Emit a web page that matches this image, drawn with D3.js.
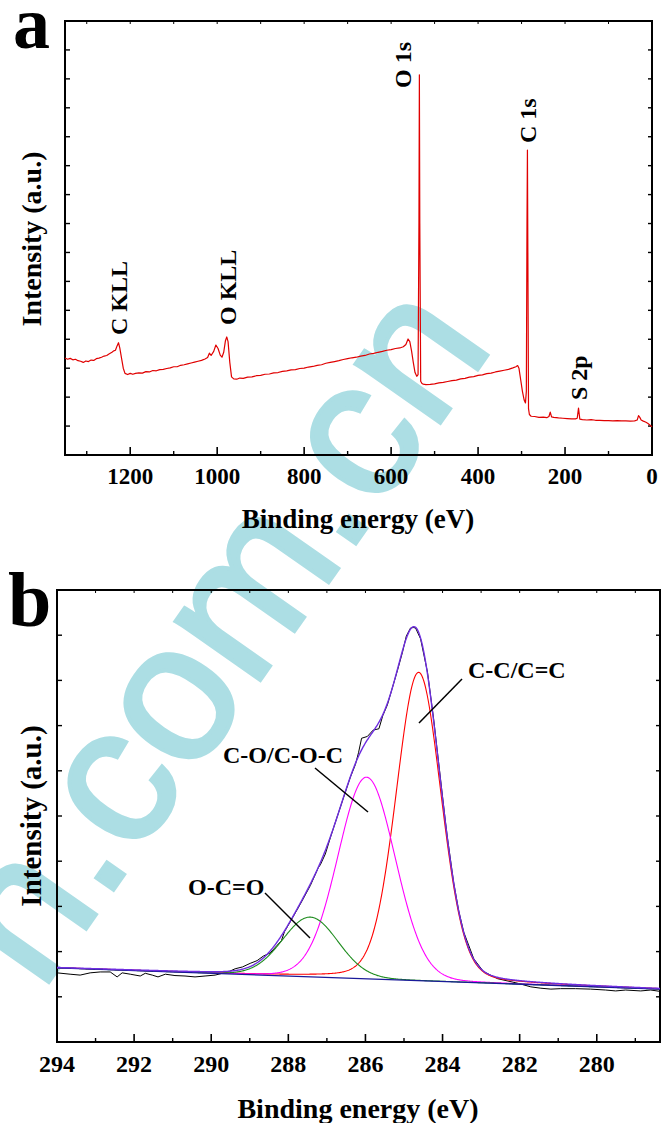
<!DOCTYPE html>
<html>
<head>
<meta charset="utf-8">
<script src="https://cdn.jsdelivr.net/npm/d3@7"></script>
<style>
  html, body { margin: 0; padding: 0; background: #fff; }
  svg { display: block; }
  text { font-family: "Liberation Serif", "Times New Roman", serif; font-weight: bold; }
</style>
</head>
<body>
<svg id="fig" width="661" height="1123"></svg>
<script>
// ---------- (a) survey spectrum ----------
const surveyEnergy = [
  1350,1344,1338,1332,1326,1320,1314,1308,1302,1296,1290,1284,1278,1272,1266,1260,1254,1248,1242,1238,
  1234,1230,1227,1224,1220,1216,1212,1206,1200,1194,1188,1180,1172,1164,1156,1148,1140,1132,1124,1116,
  1108,1100,1092,1084,1076,1068,1060,1052,1044,1036,1028,1022,1018,1014,1008,1003,998,993,989,985,
  981,978,975,971,967,962,955,948,940,930,920,910,900,890,880,870,860,850,840,830,
  820,810,800,790,780,770,760,750,740,730,720,710,700,690,680,670,660,650,640,630,
  620,610,600,590,580,572,566,561,557,553,549,545,541,538,536,535,534,532,529,526,
  520,510,500,490,480,470,460,450,440,430,420,410,400,390,380,370,360,350,340,330,
  320,313,309,306,302,298,294,291,289,287.5,286.5,285.5,284,282,278,270,260,250,242,237,
  234,231,226,215,205,195,185,176,172,169,166,160,150,140,130,120,110,100,90,80,
  70,60,50,40,34,31,28,25,20,15,10,5,0
];
const surveyIntensity = [
  3.35,3.31,3.34,3.29,3.31,3.26,3.24,3.20,3.25,3.23,3.28,3.27,3.33,3.35,3.38,3.42,3.44,3.50,3.55,3.60,
  3.62,3.78,3.88,3.70,3.35,3.00,2.82,2.78,2.82,2.79,2.82,2.84,2.83,2.88,2.87,2.92,2.91,2.95,2.96,2.99,
  3.01,3.05,3.05,3.10,3.12,3.15,3.18,3.21,3.24,3.27,3.32,3.37,3.52,3.44,3.58,3.80,3.68,3.45,3.38,3.55,
  3.95,4.08,3.92,3.20,2.70,2.63,2.62,2.66,2.65,2.69,2.70,2.74,2.75,2.79,2.80,2.84,2.85,2.89,2.91,2.94,
  2.95,2.99,3.00,3.04,3.06,3.10,3.12,3.17,3.20,3.23,3.26,3.30,3.33,3.36,3.38,3.42,3.44,3.49,3.51,3.55,
  3.58,3.62,3.64,3.68,3.70,3.74,3.82,4.01,3.92,3.60,3.20,2.85,2.72,2.78,8.00,13.14,8.00,2.55,2.47,2.45,
  2.43,2.44,2.46,2.49,2.51,2.54,2.57,2.59,2.63,2.65,2.69,2.71,2.75,2.77,2.81,2.83,2.87,2.90,2.93,2.96,
  3.01,3.05,3.09,3.00,2.60,2.20,1.90,1.80,2.20,8.00,10.54,7.00,1.60,1.40,1.34,1.33,1.30,1.31,1.29,1.33,
  1.48,1.32,1.30,1.28,1.27,1.26,1.25,1.25,1.27,1.62,1.24,1.22,1.21,1.22,1.20,1.20,1.19,1.19,1.18,1.19,
  1.18,1.18,1.17,1.18,1.21,1.36,1.30,1.21,1.17,1.14,1.10,1.04,0.97
];
const surveyPeakNames  = ["C KLL", "O KLL", "O 1s", "C 1s", "S 2p"];
const surveyPeakEnergy = [1228, 978, 535, 286.5, 169];
const surveyTickLabels = [1200, 1000, 800, 600, 400, 200, 0];

// ---------- (b) C 1s high-resolution spectrum ----------
const c1sEnergy = [
  294.00,293.66,293.40,293.14,292.88,292.62,292.44,292.31,292.10,291.84,291.71,291.53,291.38,291.19,290.94,
  290.68,290.42,290.16,289.90,289.71,289.56,289.38,289.19,288.99,288.81,288.65,288.47,288.29,288.18,288.10,
  287.95,287.69,287.43,287.22,287.17,287.04,286.91,286.78,286.57,286.39,286.26,286.18,286.10,285.95,285.80,
  285.65,285.55,285.43,285.30,285.17,285.04,284.94,284.83,284.76,284.70,284.57,284.39,284.23,284.05,283.92,
  283.87,283.71,283.58,283.45,283.19,282.94,282.57,282.05,281.71,281.45,281.19,280.94,280.55,280.16,279.77,
  279.51,279.25,278.86,278.60,278.36
];
const c1sRaw = [
  1.53,1.50,1.48,1.53,1.55,1.55,1.44,1.53,1.50,1.46,1.52,1.48,1.44,1.50,1.47,
  1.46,1.44,1.46,1.48,1.52,1.55,1.62,1.66,1.74,1.80,1.90,1.97,2.14,2.24,2.44,
  2.66,3.05,3.46,3.86,3.92,4.16,4.52,4.86,5.40,5.86,6.14,6.40,6.72,6.76,6.90,
  6.93,7.22,7.46,7.84,8.22,8.62,8.98,9.16,9.17,9.16,8.92,8.18,7.14,5.80,4.84,
  4.50,3.52,2.90,2.43,1.84,1.56,1.40,1.30,1.22,1.19,1.17,1.18,1.18,1.17,1.15,
  1.13,1.15,1.13,1.15,1.12
];
// fitted components (pseudo-Voigt peaks)
const fitNames   = ["C-C/C=C", "C-O/C-O-C", "O-C=O"];
const fitCenter  = [284.62, 285.97, 287.43];
const fitHeight  = [6.82, 4.46, 1.32];
const fitFwhm    = [1.38, 1.75, 1.70];
const fitLorentz = [0.15, 0.05, 0.05];
const backgroundEnergy = [294, 278.36];
const backgroundLevel  = [1.64, 1.17];
const c1sTickLabels = [294, 292, 290, 288, 286, 284, 282, 280];

// ---------- drawing ----------
const svg = d3.select("#fig");
const fitColors = ["#ff0000", "#ff00ff", "#1e8c1e"];

// watermark lettering behind the plots
svg.append("text")
  .attr("transform", "translate(41,993) rotate(-55)")
  .style("font-family", "'Liberation Sans', Arial, sans-serif")
  .style("font-weight", "normal")
  .style("font-size", "195px")
  .attr("fill", "#acdee4")
  .attr("stroke", "#acdee4")
  .attr("stroke-width", 4)
  .text("n.com.cn");

function frame(g, x, y, o) {
  const [x0, x1] = x.range(), [y0, y1] = y.range();
  o.bottomMajor.forEach(v => g.append("line").attr("x1", x(v)).attr("x2", x(v))
      .attr("y1", y0).attr("y2", y0 - 8).attr("stroke", "#000").attr("stroke-width", 1.6));
  o.bottomMinor.forEach(v => g.append("line").attr("x1", x(v)).attr("x2", x(v))
      .attr("y1", y0).attr("y2", y0 - 4).attr("stroke", "#000").attr("stroke-width", 1.4));
  o.topTicks.forEach(v => g.append("line").attr("x1", x(v)).attr("x2", x(v))
      .attr("y1", y1).attr("y2", y1 + 3).attr("stroke", "#000").attr("stroke-width", 1));
  o.yTicks.forEach(v => {
    g.append("line").attr("x1", x0).attr("x2", x0 + 5).attr("y1", y(v)).attr("y2", y(v))
      .attr("stroke", "#000").attr("stroke-width", 1.4);
    g.append("line").attr("x1", x1).attr("x2", x1 - 4).attr("y1", y(v)).attr("y2", y(v))
      .attr("stroke", "#000").attr("stroke-width", 1.4);
  });
  g.append("rect").attr("x", x0).attr("y", y1).attr("width", x1 - x0).attr("height", y0 - y1)
    .attr("fill", "none").attr("stroke", "#000").attr("stroke-width", 2);
  o.bottomMajor.forEach(v => g.append("text").attr("x", x(v)).attr("y", y0 + o.labelDy)
      .attr("text-anchor", "middle").style("font-size", o.labelSize + "px").text(v));
}

// ----- panel (a) -----
const xa = d3.scaleLinear().domain([1350, 0]).range([65, 652]);
const ya = d3.scaleLinear().domain([0, 15]).range([455, 21]);
const ga = svg.append("g");
frame(ga, xa, ya, {
  bottomMajor: surveyTickLabels,
  bottomMinor: [1300, 1100, 900, 700, 500, 300, 100],
  topTicks: d3.range(1300, 0, -100),
  yTicks: d3.range(1, 15),
  labelDy: 29, labelSize: 23
});
ga.append("path")
  .datum(surveyEnergy.map((e, i) => [e, surveyIntensity[i]]))
  .attr("fill", "none").attr("stroke", "#e00000").attr("stroke-width", 1.2)
  .attr("stroke-linejoin", "round")
  .attr("d", d3.line().x(d => xa(d[0])).y(d => ya(d[1])));

// peak labels, written upward
const surveyLabelPos = [[9, 335], [9, 325], [-8, 88], [9, 143], [8, 400]];
surveyPeakNames.forEach((name, i) => {
  const px = xa(surveyPeakEnergy[i]) + surveyLabelPos[i][0];
  const py = surveyLabelPos[i][1];
  ga.append("text").attr("transform", `translate(${px},${py}) rotate(-90)`)
    .style("font-size", "24px").text(name);
});
ga.append("text").attr("x", 358).attr("y", 528).attr("text-anchor", "middle")
  .style("font-size", "27px").text("Binding energy (eV)");
ga.append("text").attr("transform", "translate(41,239) rotate(-90)").attr("text-anchor", "middle")
  .style("font-size", "28px").text("Intensity (a.u.)");
ga.append("text").attr("x", 13).attr("y", 48).style("font-size", "74px").text("a");

// ----- panel (b) -----
const xb = d3.scaleLinear().domain([294, 278.36]).range([57, 660]);
const yb = d3.scaleLinear().domain([0, 10]).range([1042, 590]);
const gb = svg.append("g");
frame(gb, xb, yb, {
  bottomMajor: c1sTickLabels,
  bottomMinor: [293, 291, 289, 287, 285, 283, 281, 279],
  topTicks: d3.range(293, 278, -1),
  yTicks: d3.range(1, 10),
  labelDy: 30, labelSize: 24
});

const background = d3.scaleLinear().domain(backgroundEnergy).range(backgroundLevel);
function component(i, e) {
  const d = e - fitCenter[i], w = fitFwhm[i];
  const g = Math.exp(-4 * Math.LN2 * d * d / (w * w));
  const l = 1 / (1 + 4 * d * d / (w * w));
  return fitHeight[i] * ((1 - fitLorentz[i]) * g + fitLorentz[i] * l);
}
const grid = d3.range(294, 278.36 - 1e-9, -0.02).concat([278.36]);
const lineB = d3.line().x(d => xb(d[0])).y(d => yb(d[1]));

// measured spectrum
gb.append("path").datum(c1sEnergy.map((e, i) => [e, c1sRaw[i]]))
  .attr("fill", "none").attr("stroke", "#000").attr("stroke-width", 1).attr("d", lineB);
// components
fitNames.forEach((n, i) => {
  gb.append("path").datum(grid.map(e => [e, background(e) + component(i, e)]))
    .attr("fill", "none").attr("stroke", fitColors[i]).attr("stroke-width", 1.1).attr("d", lineB);
});
// background
gb.append("path").datum(backgroundEnergy.map((e, i) => [e, backgroundLevel[i]]))
  .attr("fill", "none").attr("stroke", "#1a1a9a").attr("stroke-width", 1.3).attr("d", lineB);
// envelope
gb.append("path").datum(grid.map(e => [e, background(e) + fitNames.reduce((s, n, i) => s + component(i, e), 0)]))
  .attr("fill", "none").attr("stroke", "#6f2ee0").attr("stroke-width", 1.4).attr("d", lineB);

// component labels with leader lines
const fitLabelXY = [[468, 678], [223, 763], [188, 895]];
const leader = [[[462, 679], [419, 723]], [[315, 768], [368, 812]], [[265, 893], [310, 938]]];
fitNames.forEach((n, i) => {
  gb.append("text").attr("x", fitLabelXY[i][0]).attr("y", fitLabelXY[i][1])
    .style("font-size", "24px").text(n);
  gb.append("line").attr("x1", leader[i][0][0]).attr("y1", leader[i][0][1])
    .attr("x2", leader[i][1][0]).attr("y2", leader[i][1][1])
    .attr("stroke", "#000").attr("stroke-width", 1.5);
});
gb.append("text").attr("x", 358).attr("y", 1118).attr("text-anchor", "middle")
  .style("font-size", "28px").text("Binding energy (eV)");
gb.append("text").attr("transform", "translate(41,816) rotate(-90)").attr("text-anchor", "middle")
  .style("font-size", "29px").text("Intensity (a.u.)");
gb.append("text").attr("x", 8).attr("y", 626).style("font-size", "78px").text("b");
</script>
</body>
</html>
